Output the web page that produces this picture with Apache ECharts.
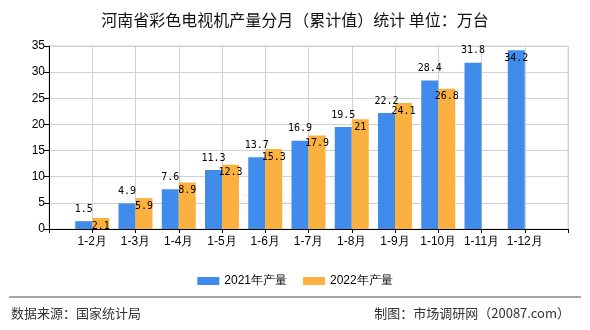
<!DOCTYPE html>
<html><head><meta charset="utf-8">
<script src="https://cdn.jsdelivr.net/npm/echarts@6/dist/echarts.min.js"></script>
<style>html,body{margin:0;padding:0;background:#fff}#c{width:590px;height:330px}</style>
</head><body><div id="c"></div>
<script>
var months = ['1-2月','1-3月','1-4月','1-5月','1-6月','1-7月','1-8月','1-9月','1-10月','1-11月','1-12月'];
var v2021 = [1.5, 4.9, 7.6, 11.3, 13.7, 16.9, 19.5, 22.2, 28.4, 31.8, 34.2];
var v2022 = [2.1, 5.9, 8.9, 12.3, 15.3, 17.9, 21, 24.1, 26.8, null, null];
var yTicks = [0, 5, 10, 15, 20, 25, 30, 35];
var seriesNames = ['2021年产量', '2022年产量'];

var cats = [''].concat(months).concat(['']);
function pad(arr, insideAbove) {
  var out = ['-'];
  arr.forEach(function (v) {
    if (v === null) { out.push('-'); return; }
    if (insideAbove !== undefined && v > insideAbove) {
      out.push({ value: v, label: { position: 'insideTop', distance: 3 } });
    } else out.push(v);
  });
  out.push('-');
  return out;
}
var labelFont = { fontFamily: 'DejaVu Sans Mono', fontSize: 10, color: '#000' };
var chart = echarts.init(document.getElementById('c'));
chart.setOption({
  animation: false,
  title: {
    text: '河南省彩色电视机产量分月（累计值）统计 单位：万台',
    left: 'center', top: 7,
    textStyle: { fontFamily: 'Noto Sans CJK SC', fontSize: 16, fontWeight: 'normal', color: '#111' }
  },
  grid: { left: 49, right: 22, top: 46, bottom: 101, show: true, borderColor: '#d0d0d0', borderWidth: 1 },
  legend: {
    data: seriesNames, top: 270, left: 'center',
    itemWidth: 22, itemHeight: 8, itemGap: 16,
    textStyle: { fontFamily: 'Liberation Sans', fontSize: 12, color: '#000' },
    icon: 'rect'
  },
  xAxis: {
    type: 'category', data: cats, boundaryGap: false,
    axisLine: { lineStyle: { color: '#000' } },
    axisTick: { show: true, length: 4, lineStyle: { color: '#000' } },
    axisLabel: { fontFamily: 'Liberation Sans', fontSize: 12, color: '#000', margin: 7, interval: 0 },
    splitLine: { show: true, lineStyle: { color: '#d0d0d0' } }
  },
  yAxis: {
    type: 'value', min: yTicks[0], max: yTicks[yTicks.length - 1], interval: 5,
    axisLine: { show: true, lineStyle: { color: '#000' } },
    axisTick: { show: true, length: 5, lineStyle: { color: '#000' } },
    axisLabel: { fontFamily: 'Liberation Sans', fontSize: 12, color: '#000', margin: 4 },
    splitLine: { lineStyle: { color: '#d0d0d0' } }
  },
  graphic: [
    { type: 'text', left: 205, top: 192, silent: true,
      style: { text: '市场调研网', font: '24px "Noto Sans CJK SC"', fill: 'rgba(0,0,0,0.035)' } },
    { type: 'line', shape: { x1: 9, y1: 297, x2: 581, y2: 297 }, style: { stroke: '#888', lineWidth: 1.5 } },
    { type: 'text', left: 11, top: 307,
      style: { text: '数据来源：国家统计局', font: '13px "Noto Sans CJK SC"', fill: '#333' } },
    { type: 'text', right: 20, top: 307,
      style: { text: '制图：市场调研网（20087.com）', font: '13px "Noto Sans CJK SC"', fill: '#333' } }
  ],
  series: [
    { name: seriesNames[0], type: 'bar', data: pad(v2021, 33), barWidth: 17, barGap: '0%',
      itemStyle: { color: '#418BEB' },
      label: Object.assign({ show: true, position: 'top', distance: 7 }, labelFont) },
    { name: seriesNames[1], type: 'bar', data: pad(v2022), barWidth: 17, barGap: '0%',
      itemStyle: { color: '#FBB13F' },
      label: Object.assign({ show: true, position: 'insideTop', distance: 3 }, labelFont) }
  ]
});
</script></body></html>
